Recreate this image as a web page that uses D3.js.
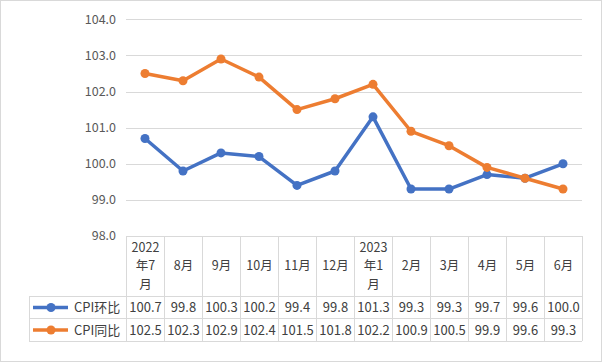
<!DOCTYPE html>
<html><head><meta charset="utf-8">
<script src="https://cdn.jsdelivr.net/npm/d3@7"></script>
<style>body{margin:0;background:#fff}svg{display:block}text{font-family:"Noto Sans CJK SC","Noto Sans",sans-serif}</style>
</head><body><svg id="c" width="602" height="362"></svg>
<script>
const categories = ["2022\n年7\n月","8月","9月","10月","11月","12月","2023\n年1\n月","2月","3月","4月","5月","6月"];
const seriesNames = ["CPI环比","CPI同比"];
const huanbi = [100.7,99.8,100.3,100.2,99.4,99.8,101.3,99.3,99.3,99.7,99.6,100.0];
const tongbi = [102.5,102.3,102.9,102.4,101.5,101.8,102.2,100.9,100.5,99.9,99.6,99.3];
const yTicks = [98,99,100,101,102,103,104];
const colors = ["#4472C4","#ED7D31"];

(function(){
const svg = d3.select("#c");
svg.append("rect").attr("x",0.5).attr("y",0.5).attr("width",601).attr("height",361)
  .attr("fill","#fff").attr("stroke","#d9d9d9");

const pL=126, pR=582, pT=19.3, pB=236;
const x = d3.scaleBand().domain(d3.range(categories.length)).range([pL,pR]);
const y = d3.scaleLinear().domain([98,104]).range([pB,pT]);
const grid="#d9d9d9";

svg.append("g").selectAll("line").data(yTicks.filter(t=>t>98)).join("line")
  .attr("x1",pL).attr("x2",pR).attr("y1",d=>Math.round(y(d))+0.5).attr("y2",d=>Math.round(y(d))+0.5)
  .attr("stroke",grid).attr("stroke-width",1);
svg.append("g").selectAll("text").data(yTicks).join("text")
  .attr("x",116).attr("y",d=>y(d)).attr("dy","0.35em").attr("text-anchor","end")
  .attr("font-size",12.5).attr("fill","#595959").text(d=>d.toFixed(1));

const legL=29, rowTop=pB, rowCat=296, r1=318, r2=341;
const tg = svg.append("g").attr("stroke",grid).attr("stroke-width",1).attr("shape-rendering","crispEdges");
tg.append("line").attr("x1",pL).attr("x2",pR).attr("y1",rowTop+0.5).attr("y2",rowTop+0.5);
[rowCat,r1,r2].forEach(yy=>tg.append("line").attr("x1",legL).attr("x2",pR).attr("y1",yy+0.5).attr("y2",yy+0.5));
tg.append("line").attr("x1",legL+0.5).attr("x2",legL+0.5).attr("y1",rowCat).attr("y2",r2);
d3.range(categories.length+1).forEach(i=>{
  const xx = i<categories.length ? x(i) : pR;
  tg.append("line").attr("x1",xx+0.5).attr("x2",xx+0.5).attr("y1",rowTop).attr("y2",r2);
});
const catG = svg.append("g");
categories.forEach((c,i)=>{
  const lines=c.split("\n"); const lh=18.5;
  const cy=(rowTop+rowCat)/2;
  const cx=x(i)+x.bandwidth()/2+0.5;
  const t=catG.append("text").attr("text-anchor","middle").attr("font-size",12.5).attr("fill","#404040");
  lines.forEach((ln,j)=>{
    t.append("tspan").attr("x",cx).attr("y",cy+(j-(lines.length-1)/2)*lh).attr("dy","0.35em").text(ln);
  });
});
const allData=[huanbi,tongbi];
const rowC=[(rowCat+r1)/2+0.5,(r1+r2)/2+0.5];
allData.forEach((arr,k)=>{
  const g=svg.append("g");
  arr.forEach((v,i)=>g.append("text").attr("x",x(i)+x.bandwidth()/2+0.5).attr("y",rowC[k]).attr("dy","0.35em")
    .attr("text-anchor","middle").attr("font-size",13).attr("fill","#404040").text(v.toFixed(1)));
  g.append("line").attr("x1",33).attr("x2",68).attr("y1",rowC[k]).attr("y2",rowC[k]).attr("stroke",colors[k]).attr("stroke-width",3.5);
  g.append("circle").attr("cx",51).attr("cy",rowC[k]).attr("r",4.5).attr("fill",colors[k]);
  g.append("text").attr("x",74).attr("y",rowC[k]).attr("dy","0.35em").attr("font-size",13).attr("fill","#404040").text(seriesNames[k]);
});

const line=d3.line().x((d,i)=>x(i)+x.bandwidth()/2).y(d=>y(d));
[0,1].forEach(k=>{
  const arr=allData[k];
  svg.append("path").datum(arr).attr("d",line).attr("fill","none").attr("stroke",colors[k])
    .attr("stroke-width",3.5).attr("stroke-linejoin","round");
  svg.append("g").selectAll("circle").data(arr).join("circle")
    .attr("cx",(d,i)=>x(i)+x.bandwidth()/2).attr("cy",d=>y(d)).attr("r",4.5).attr("fill",colors[k]);
});
})();
</script></body></html>
